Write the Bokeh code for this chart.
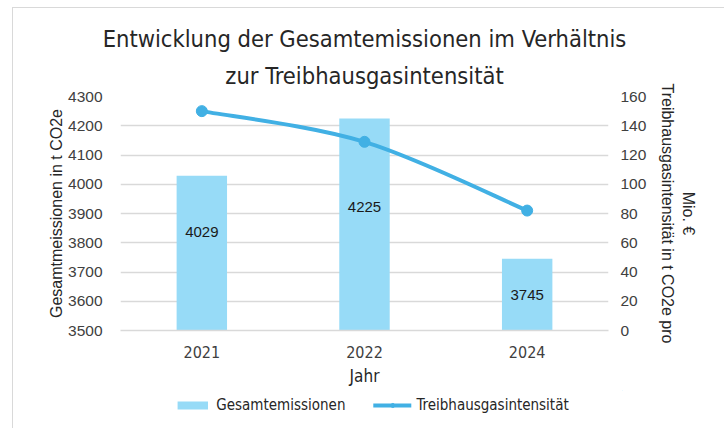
import math
from bokeh.plotting import figure
from bokeh.layouts import column
from bokeh.models import (Range1d, LinearAxis, FixedTicker, Legend, LegendItem,
                          ColumnDataSource, Title)
from bokeh.core.properties import value
from bokeh.embed import file_html
from bokeh.resources import INLINE

# ---- data ----
years = ["2021", "2022", "2024"]
emissions = [4029, 4225, 3745]
intensity = [150, 129, 82]
left_ticks = [3500, 3600, 3700, 3800, 3900, 4000, 4100, 4200, 4300]
right_ticks = [0, 20, 40, 60, 80, 100, 120, 140, 160]
series_names = ["Gesamtemissionen", "Treibhausgasintensität"]

# ---- styles ----
BAR = "#97dbf7"
LINE = "#41b0e4"
GRID = "#d9d9d9"
TXT = "#404040"
NARROW = "'Liberation Sans Narrow', 'DejaVu Sans Condensed', 'Arial Narrow', sans-serif"
SANS = "'Liberation Sans', Arial, sans-serif"
label_dy = [-21, -17, 0]

xs = [i + 0.5 for i in range(len(years))]

p = figure(frame_width=488, frame_height=234, output_backend="svg", toolbar_location=None,
           x_range=Range1d(0, len(years)), y_range=Range1d(left_ticks[0], left_ticks[-1]),
           min_border_left=107, min_border_right=103, min_border_top=88, min_border_bottom=60)
p.outline_line_color = None
p.extra_y_ranges = {"right": Range1d(right_ticks[0], right_ticks[-1])}

# title (two centred lines)
p.title = None
t2 = Title(text="zur Treibhausgasintensität", align="center", text_font=NARROW,
           text_font_size="23.5px", text_font_style="normal", text_color="#262626", standoff=14)
t1 = Title(text="Entwicklung der Gesamtemissionen im Verhältnis", align="center",
           text_font=NARROW, text_font_size="23.5px", text_font_style="normal",
           text_color="#262626", standoff=0)
p.add_layout(t2, "above")
p.add_layout(t1, "above")

# bars
src = ColumnDataSource(dict(x=xs, top=emissions, year=years,
                            mid=[(e + left_ticks[0]) / 2 for e in emissions],
                            lab=[str(e) for e in emissions], dy=label_dy))
bar_r = p.vbar(x="x", top="top", bottom=left_ticks[0], width=0.31, source=src,
               fill_color=BAR, line_color=None)
p.text(x="x", y="mid", text="lab", source=src, text_align="center",
       text_baseline="middle", y_offset="dy", text_font=value(SANS),
       text_font_size="15px", text_color="#1a1a1a")

# smoothed line (Catmull-Rom style bezier through the data points)
pts = list(zip(xs, intensity))
x0, y0, x1, y1, cx0, cy0, cx1, cy1 = [], [], [], [], [], [], [], []
for i in range(len(pts) - 1):
    P0 = pts[i - 1] if i > 0 else pts[i]
    P1 = pts[i]
    P2 = pts[i + 1]
    P3 = pts[i + 2] if i + 2 < len(pts) else pts[i + 1]
    x0.append(P1[0]); y0.append(P1[1]); x1.append(P2[0]); y1.append(P2[1])
    cx0.append(P1[0] + (P2[0] - P0[0]) / 6); cy0.append(P1[1] + (P2[1] - P0[1]) / 6)
    cx1.append(P2[0] - (P3[0] - P1[0]) / 6); cy1.append(P2[1] - (P3[1] - P1[1]) / 6)
p.bezier(x0=x0, y0=y0, x1=x1, y1=y1, cx0=cx0, cy0=cy0, cx1=cx1, cy1=cy1,
         line_color=LINE, line_width=4, line_cap="round", y_range_name="right")
p.scatter(x=xs, y=intensity, size=11, fill_color=LINE, line_color=LINE,
          y_range_name="right")

# axes
p.xaxis.ticker = FixedTicker(ticks=xs)
p.xaxis.major_label_overrides = {x: y for x, y in zip(xs, years)}
p.xaxis.axis_label = "Jahr"
p.yaxis.ticker = FixedTicker(ticks=left_ticks)
p.yaxis.axis_label = "Gesamtmeissionen in t CO2e"

# right title: lines ordered so that the long line sits next to the tick labels
ra = LinearAxis(y_range_name="right", ticker=FixedTicker(ticks=right_ticks),
                axis_label="Mio. €\nTreibhausgasintensität in t CO2e pro")
p.add_layout(ra, "right")

for ax in [p.xaxis[0], p.yaxis[0], ra]:
    ax.major_tick_line_color = None
    ax.minor_tick_line_color = None
    ax.major_label_text_color = TXT
    ax.axis_label_text_color = "#262626"
    ax.axis_label_text_font_style = "normal"
p.yaxis.axis_line_color = None
ra.axis_line_color = None
p.xaxis.axis_line_color = GRID
p.xaxis.axis_line_width = 1.5

p.xaxis.major_label_text_font = NARROW
p.xaxis.major_label_text_font_size = "16px"
p.xaxis.major_label_standoff = 9
p.xaxis.axis_label_text_font = NARROW
p.xaxis.axis_label_text_font_size = "17px"
p.xaxis.axis_label_standoff = 5

for ax in [p.yaxis[0], ra]:
    ax.major_label_text_font = SANS
    ax.major_label_text_font_size = "15.5px"
    ax.axis_label_text_font = SANS
    ax.axis_label_text_font_size = "16px"
p.yaxis.major_label_standoff = 12
p.yaxis.axis_label_standoff = 0
ra.major_label_standoff = 6
ra.axis_label_standoff = 10

p.xgrid.grid_line_color = None
p.ygrid.grid_line_color = GRID
p.ygrid.grid_line_width = 1.5

# legend strip below the chart: the series are re-plotted with the same styles
# on a range that keeps them out of view, so only their legend swatches show
lg = figure(width=712, height=38, output_backend="svg", toolbar_location=None,
            x_range=Range1d(-200, -199), y_range=Range1d(-200, -199),
            min_border_left=12, min_border_right=0, min_border_top=0, min_border_bottom=8)
lg.axis.visible = False
lg.grid.visible = False
lg.outline_line_color = None
lb = lg.vbar(x=xs, top=emissions, width=0.31, fill_color=BAR, line_color=None)
ll = lg.line(x=xs, y=intensity, line_color=LINE, line_width=4, line_cap="round")
ls = lg.scatter(x=xs, y=intensity, size=11, fill_color=LINE, line_color=LINE)
legend = Legend(items=[LegendItem(label=series_names[0], renderers=[lb]),
                       LegendItem(label=series_names[1], renderers=[ll, ls])],
                orientation="horizontal", location="center",
                label_text_font=NARROW, label_text_font_size="15px", label_text_color="#262626",
                glyph_width=38, glyph_height=10, spacing=28, padding=0, margin=0,
                label_height=18, border_line_color=None, background_fill_alpha=0)
lg.add_layout(legend, "center")

layout = column(p, lg, spacing=0, margin=(7, 0, 0, 12),
                styles={"border-left": "1px solid #d9d9d9", "border-top": "1px solid #d9d9d9"})

open("out.html", "w").write(file_html(layout, INLINE))
